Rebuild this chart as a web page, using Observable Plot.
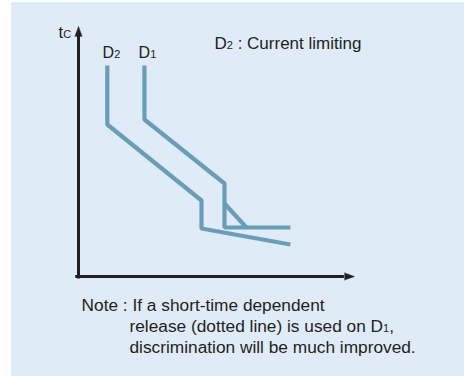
<!DOCTYPE html>
<html>
<head>
<meta charset="utf-8">
<script src="https://cdn.jsdelivr.net/npm/d3@7"></script>
<script src="https://cdn.jsdelivr.net/npm/@observablehq/plot@0.6"></script>
<style>
  html, body { margin: 0; padding: 0; background: #ffffff; }
  #wrap { position: relative; width: 464px; height: 376px; overflow: hidden; }
  #panel { position: absolute; left: 11px; top: 2px; right: 0; bottom: 0; background: #dfebf6; }
  #chart { position: absolute; left: 0; top: 0; }
  #chart svg { background: transparent; }
</style>
</head>
<body>
<div id="wrap"><div id="panel"></div><div id="chart"></div></div>
<script>
// Curve D2 (current limiting breaker), in chart units (current on x, time on y)
const d2Current = [10.4, 10.4, 44.4, 44.4, 76.5];
const d2Time    = [84.4, 60.8, 30.4, 19.2, 12.8];
// Curve D1
const d1Current = [23.8, 23.8, 52.7, 52.7, 76.5];
const d1Time    = [84.4, 62.8, 37.2, 19.6, 19.6];
// Short-time dependent release on D1 (the "dotted line" branch)
const d1ShortCurrent = [52.7, 60.6];
const d1ShortTime    = [29.2, 19.6];

// Axes (origin to arrow base) and arrow heads
const axisEnd = [96, 96];          // x-axis end, y-axis end
// Text labels
const curveNames  = ["D_2", "D_1"];
const curveLabelX = [8.7, 21.7];
const curveLabelY = [87.6, 87.6];
const axisLabel = "t_C";
const axisLabelPos = [-7.2, 95.6];
const legendText = "D_2 : Current limiting";
const legendPos = [49.1, 91.2];
const noteLines = [
  "Note : If a short-time dependent",
  "release (dotted line) is used on D_1,",
  "discrimination will be much improved."
];
const noteX = [1.1, 18.4, 18.4];
const noteY = [-13.8, -22.2, -30.6];

const curveColor = "#6a9eb6";
const ink = "#231f20";
const font = "Liberation Sans, Arial, sans-serif";

const d2 = d2Current.map((x, i) => ({x, y: d2Time[i]}));
const d1 = d1Current.map((x, i) => ({x, y: d1Time[i]}));
const d1s = d1ShortCurrent.map((x, i) => ({x, y: d1ShortTime[i]}));
const names = curveNames.map((t, i) => ({t, x: curveLabelX[i], y: curveLabelY[i]}));
const notes = noteLines.map((t, i) => ({t, x: noteX[i], y: noteY[i]}));

const plot = Plot.plot({
  width: 464,
  height: 376,
  marginLeft: 78,
  marginRight: 109,
  marginTop: 26,
  marginBottom: 100,
  x: {domain: [0, 100], axis: null},
  y: {domain: [0, 100], axis: null},
  style: {fontFamily: font, background: "transparent", overflow: "visible"},
  marks: [
    // axes
    Plot.ruleY([0], {x1: -1, x2: axisEnd[0], stroke: ink, strokeWidth: 3}),
    Plot.ruleX([0], {y1: -1, y2: axisEnd[1], stroke: ink, strokeWidth: 3}),
    Plot.vector([{x: axisEnd[0], y: 0}], {x: "x", y: "y", rotate: 90, length: 10, r: 3.6, shape: "spike", anchor: "start", fill: ink, stroke: ink, strokeWidth: 0.5}),
    Plot.vector([{x: 0, y: axisEnd[1]}], {x: "x", y: "y", rotate: 0, length: 10, r: 3.6, shape: "spike", anchor: "start", fill: ink, stroke: ink, strokeWidth: 0.5}),
    // curves
    Plot.line(d2, {x: "x", y: "y", stroke: curveColor, strokeWidth: 4.2, strokeLinejoin: "miter", strokeLinecap: "butt"}),
    Plot.line(d1, {x: "x", y: "y", stroke: curveColor, strokeWidth: 4.2, strokeLinejoin: "miter", strokeLinecap: "butt"}),
    Plot.line(d1s, {x: "x", y: "y", stroke: curveColor, strokeWidth: 4.2, strokeLinecap: "butt"}),
    // labels
    Plot.text(names, {x: "x", y: "y", text: "t", textAnchor: "start", lineAnchor: "bottom", fontSize: 16, fill: ink}),
    Plot.text([axisLabel], {x: axisLabelPos[0], y: axisLabelPos[1], text: d => d, textAnchor: "start", lineAnchor: "bottom", fontSize: 16.5, fill: ink}),
    Plot.text([legendText], {x: legendPos[0], y: legendPos[1], text: d => d, textAnchor: "start", lineAnchor: "bottom", fontSize: 17, fill: ink}),
    Plot.text(notes, {x: "x", y: "y", text: "t", textAnchor: "start", lineAnchor: "bottom", fontSize: 17.3, fill: ink})
  ]
});

// Render "_X" as a small subscript character sitting on the baseline
plot.querySelectorAll("text").forEach(el => {
  const s = el.textContent;
  if (!s.includes("_")) return;
  const size = parseFloat(el.getAttribute("font-size") || el.parentNode.getAttribute("font-size") || 16);
  while (el.firstChild) el.removeChild(el.firstChild);
  const parts = s.split(/_(.)/);
  parts.forEach((p, i) => {
    if (!p) return;
    if (i % 2 === 1) {
      const ts = document.createElementNS("http://www.w3.org/2000/svg", "tspan");
      ts.setAttribute("font-size", Math.round(size * 0.66));
      ts.textContent = p;
      el.appendChild(ts);
    } else {
      el.appendChild(document.createTextNode(p));
    }
  });
});

document.getElementById("chart").appendChild(plot);
</script>
</body>
</html>
